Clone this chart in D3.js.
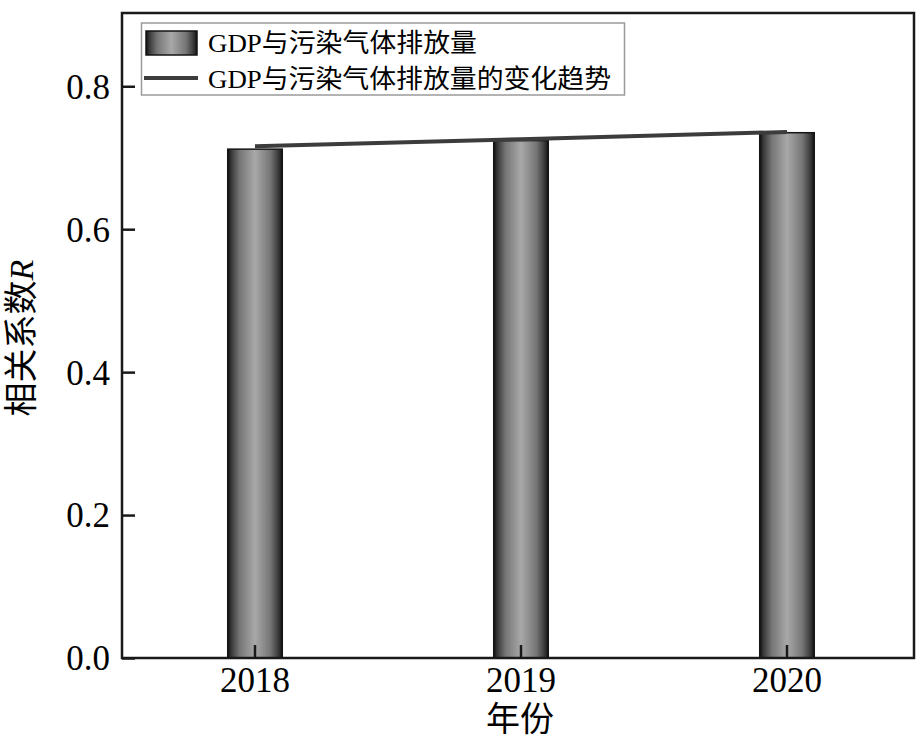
<!DOCTYPE html>
<html><head><meta charset="utf-8">
<script src="https://cdn.jsdelivr.net/npm/d3@7/dist/d3.min.js"></script>
<style>body{margin:0;background:#fff}svg{display:block}</style>
</head><body>
<svg id="c" width="923" height="737"></svg>
<script>
const years = ["2018","2019","2020"];
const corrValues = [0.712, 0.724, 0.735];
const trendValues = [0.716, 0.726, 0.736];
const yTicks = [0.0, 0.2, 0.4, 0.6, 0.8];
const legendLabels = ["GDP与污染气体排放量", "GDP与污染气体排放量的变化趋势"];
const yTitle = "相关系数";
const xTitle = "年份";

const svg = d3.select("#c");
const L = 122, R = 914, T = 13, B = 658;
const serif = "'Liberation Serif','Times New Roman','Noto Sans CJK SC',serif";

const x = d3.scaleBand().domain(years).range([L, 920]).padding(0);
const y = d3.scaleLinear().domain([0, 0.9025]).range([B, T]);

const defs = svg.append("defs");
const g = defs.append("linearGradient").attr("id","barG").attr("x1","0").attr("x2","1").attr("y1","0").attr("y2","0");
[[0,"#111"],[0.07,"#3a3a3a"],[0.22,"#767676"],[0.5,"#a8a8a8"],[0.78,"#767676"],[0.93,"#3a3a3a"],[1,"#111"]]
  .forEach(([o,c])=>g.append("stop").attr("offset",o).attr("stop-color",c));

const bw = x.step()*0.205;
// bars
svg.append("g").selectAll("rect").data(years).join("rect")
  .attr("x", d => x(d)+x.bandwidth()/2 - bw/2)
  .attr("y", (d,i) => y(corrValues[i]))
  .attr("width", bw)
  .attr("height", (d,i) => y(0)-y(corrValues[i]))
  .attr("fill","url(#barG)")
  .attr("stroke","#151515").attr("stroke-width",1.5);

// trend line
const line = d3.line().x((d,i)=>x(years[i])+x.bandwidth()/2).y(d=>y(d));
svg.append("path").datum(trendValues).attr("d", line)
  .attr("fill","none").attr("stroke","#3c3c3c").attr("stroke-width",4);

// frame
svg.append("rect").attr("x",L).attr("y",T).attr("width",R-L).attr("height",B-T)
  .attr("fill","none").attr("stroke","#1a1a1a").attr("stroke-width",2.5);

// y axis
const ya = svg.append("g").attr("transform",`translate(${L},0)`)
  .call(d3.axisLeft(y).tickValues(yTicks).tickFormat(d3.format(".1f")).tickSizeInner(-13).tickSizeOuter(0).tickPadding(12));
ya.select(".domain").remove();
ya.selectAll("line").attr("stroke","#1a1a1a").attr("stroke-width",2.5);
ya.selectAll("text").attr("font-family",serif).attr("font-size",35).attr("fill","#000").attr("dy","0.34em");

// x axis
const xa = svg.append("g").attr("transform",`translate(0,${B})`)
  .call(d3.axisBottom(x).tickSizeInner(-13).tickSizeOuter(0).tickPadding(10));
xa.select(".domain").remove();
xa.selectAll("line").attr("stroke","#1a1a1a").attr("stroke-width",2.5);
xa.selectAll("text").attr("font-family",serif).attr("font-size",35).attr("fill","#000").attr("dy","0.68em");

// axis titles
svg.append("text").attr("x", 520).attr("y", 731).attr("text-anchor","middle")
  .attr("font-family",serif).attr("font-size",34).attr("fill","#000").text(xTitle);
const yt = svg.append("text").attr("transform","translate(33,338) rotate(-90)").attr("text-anchor","middle")
  .attr("font-family",serif).attr("font-size",34).attr("fill","#000");
yt.append("tspan").text(yTitle);
yt.append("tspan").attr("font-style","italic").text("R");

// legend
const lg = svg.append("g");
lg.append("rect").attr("x",141.5).attr("y",23).attr("width",483).attr("height",72)
  .attr("fill","#fff").attr("stroke","#9a9a9a").attr("stroke-width",1.5);
lg.append("rect").attr("x",146).attr("y",31).attr("width",51).attr("height",24)
  .attr("fill","url(#barG)").attr("stroke","#151515").attr("stroke-width",1.5);
lg.append("line").attr("x1",144).attr("x2",198).attr("y1",78).attr("y2",78)
  .attr("stroke","#3c3c3c").attr("stroke-width",4);
lg.append("text").attr("x",208).attr("y",52).attr("font-family",serif).attr("font-size",26)
  .attr("textLength",269).attr("lengthAdjust","spacingAndGlyphs").text(legendLabels[0]);
lg.append("text").attr("x",208).attr("y",88).attr("font-family",serif).attr("font-size",26)
  .attr("textLength",403).attr("lengthAdjust","spacingAndGlyphs").text(legendLabels[1]);
</script>
</body></html>
